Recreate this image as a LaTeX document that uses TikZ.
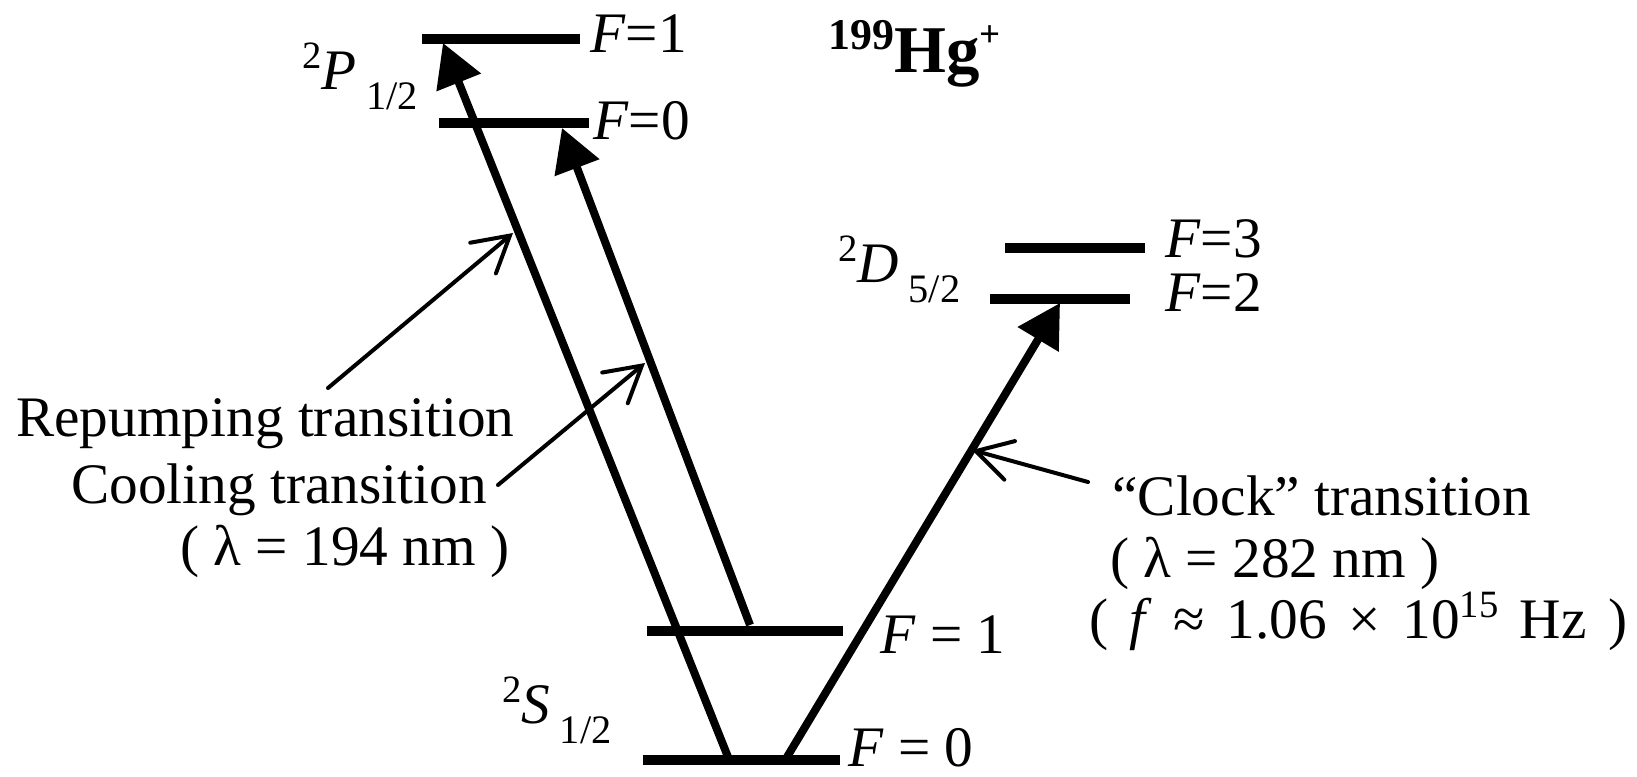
\documentclass[tikz,border=0pt]{standalone}
\usepackage{fontspec}
\setmainfont{Liberation Serif}
\usetikzlibrary{arrows.meta}

\newcommand{\lvsup}[1]{\raisebox{0.42cm}{\fontsize{22}{22}\selectfont #1}}
\newcommand{\lvsub}[1]{\raisebox{-0.4cm}{\fontsize{23}{23}\selectfont #1}}

\begin{document}
\begin{tikzpicture}[
        level/.style={
            line width=0.2cm
        },
        trans/.style={
            line width=0.16cm,
            -{Triangle[length=0.85cm,width=0.92cm]}
        },
        pointer/.style={
            line width=0.08cm,
            line cap=round,
            -{Straight Barb[length=0.7cm,width=0.8cm,line cap=round]}
        },
        lbl/.style={
            anchor=base west,
            inner sep=0pt,
            font=\fontsize{32.6}{40}\selectfont
        },
        title/.style={
            anchor=base west,
            inner sep=0pt,
            font=\fontsize{38}{44}\selectfont\bfseries
        }
    ]

        \useasboundingbox (0,0) rectangle (32.74,-15.54);

        % levels
        \draw[level] (8.44,-0.78) -- (11.6,-0.78);
        \draw[level] (8.78,-2.46) -- (11.78,-2.46);
        \draw[level] (20.1,-4.96) -- (22.9,-4.96);
        \draw[level] (19.8,-5.98) -- (22.6,-5.98);
        \draw[level] (12.94,-12.62) -- (16.86,-12.62);
        \draw[level] (12.86,-15.2) -- (16.8,-15.2);

        % transition end points
        \coordinate (s0rep) at (14.56,-15.14);
        \coordinate (p1rep) at (8.86,-0.86);
        \coordinate (s1cool) at (15.0,-12.5);
        \coordinate (p0cool) at (11.24,-2.56);
        \coordinate (s0clk) at (15.74,-15.14);
        \coordinate (d2clk) at (21.2,-6.06);

        \draw[trans] (s0rep) -- (p1rep);
        \draw[trans] (s1cool) -- (p0cool);
        \draw[trans] (s0clk) -- (d2clk);

        % level labels
        \node[lbl] (fp1) at (11.8,-1.06) {\textit{F}=1};
        \node[lbl] (fp0) at (11.86,-2.8) {\textit{F}=0};
        \node[lbl] (fd3) at (23.3,-5.16) {\textit{F}=3};
        \node[lbl] (fd2) at (23.3,-6.24) {\textit{F}=2};
        \node[lbl] (fs1) at (17.6,-13.06) {\textit{F} = 1};
        \node[lbl] (fs0) at (16.96,-15.32) {\textit{F} = 0};

        \node[lbl] (pstate) at (6.04,-1.8) {\lvsup{2}\textit{P}\,\lvsub{1/2}};
        \node[lbl] (dstate) at (16.76,-5.66) {\lvsup{2}\textit{D}\,\lvsub{5/2}};
        \node[lbl] (sstate) at (10.04,-14.46) {\lvsup{2}\textit{S}\,\lvsub{1/2}};
        \node[title] (ion) at (16.56,-1.46) {\raisebox{0.46cm}{\fontsize{25}{25}\selectfont\bfseries 199}Hg\raisebox{0.52cm}{\fontsize{21}{21}\selectfont\bfseries +}};

        % transition labels
        \node[lbl] (rep) at (0.32,-8.74) {Repumping transition};
        \node[lbl] (cool) at (1.42,-10.06) {Cooling transition};
        \node[lbl] (uvwl) at (3.6,-11.3) {( λ = 194 nm )};
        \node[lbl] (clk) at (22.24,-10.3) {“Clock” transition};
        \node[lbl] (clkwl) at (22.2,-11.54) {( λ = 282 nm )};
        \node[lbl] (clkf) at (21.78,-12.76) {\spaceskip=0.43cm\relax ( \textit{f} ≈ 1.06 × 10\lvsup{15} Hz )};

        % pointers
        \coordinate (reptail) at (6.56,-7.76);
        \coordinate (reptip) at (10.26,-4.66);
        \coordinate (cooltail) at (9.96,-9.7);
        \coordinate (cooltip) at (12.9,-7.26);
        \coordinate (clktail) at (21.76,-9.64);
        \coordinate (clktip) at (19.44,-9.0);

        \draw[pointer] (reptail) -- (reptip);
        \draw[pointer] (cooltail) -- (cooltip);
        \draw[pointer] (clktail) -- (clktip);

    \end{tikzpicture}
\end{document}
